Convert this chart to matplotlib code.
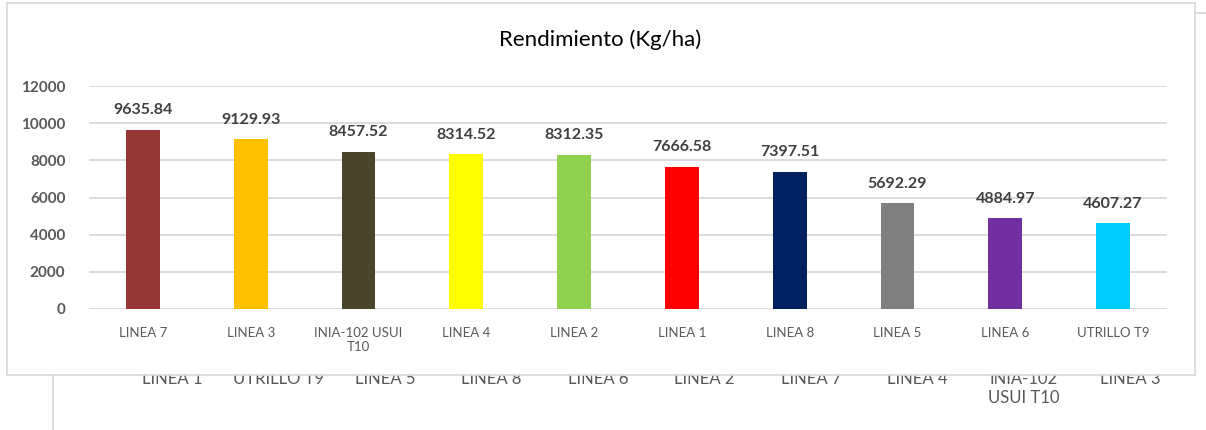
import matplotlib.pyplot as plt
import matplotlib.transforms as mtransforms

plt.rcParams['font.family'] = ['Lato', 'DejaVu Sans']

# front chart data
lineas = ["LINEA 7", "LINEA 3", "INIA-102 USUI\nT10", "LINEA 4", "LINEA 2",
          "LINEA 1", "LINEA 8", "LINEA 5", "LINEA 6", "UTRILLO T9"]
rendimiento = [9635.84, 9129.93, 8457.52, 8314.52, 8312.35,
               7666.58, 7397.51, 5692.29, 4884.97, 4607.27]
colores = ["#953735", "#FFC000", "#4A452A", "#FFFF00", "#92D050",
           "#FF0000", "#002060", "#808080", "#7030A0", "#00CCFF"]
yticks = [0, 2000, 4000, 6000, 8000, 10000, 12000]

# chart peeking out from behind
bg_labels = ["LINEA 1", "UTRILLO T9", "LINEA 5", "LINEA 8", "LINEA 6",
             "LINEA 2", "LINEA 7", "LINEA 4", "INIA-102\nUSUI T10", "LINEA 3"]

W, H = 1206, 430
fig = plt.figure(figsize=(W / 100, H / 100), dpi=100)
fig.patch.set_facecolor("white")
grey = "#D9D9D9"
txt = "#595959"


def box(x0, y0, x1, y1):
    # pixel box (top-left origin) -> figure fraction
    return [x0 / W, 1 - y1 / H, (x1 - x0) / W, (y1 - y0) / H]


# background chart (only its border and category labels show)
bg = fig.add_axes(box(53, 13, 1260, 480), zorder=0)
step = 106.5
bg.set_xlim(-(172 - 53) / step, (1260 - 172) / step)
bg.set_ylim(0, 1)
bg.set_xticks([])
bg.set_yticks([])
for s in ["right", "bottom"]:
    bg.spines[s].set_visible(False)
for s in ["left", "top"]:
    bg.spines[s].set_color(grey)
    bg.spines[s].set_linewidth(1.2)
trans = mtransforms.blended_transform_factory(bg.transData, fig.transFigure)
for i, lab in enumerate(bg_labels):
    bg.text(i, 1 - 371 / H, lab, transform=trans, ha="center", va="top",
            fontsize=12, color=txt, linespacing=1.25)

# front chart frame
frame = fig.add_axes(box(7, 3, 1195, 375), zorder=1)
frame.set_facecolor("white")
frame.set_xticks([])
frame.set_yticks([])
for s in frame.spines.values():
    s.set_color(grey)
    s.set_linewidth(1.2)

# plot area
ax = fig.add_axes(box(89, 86, 1167, 309), zorder=2)
ax.patch.set_alpha(0)
x = range(len(lineas))
bars = ax.bar(x, rendimiento, width=0.315, color=colores, zorder=3)
ax.set_xlim(-0.5, len(lineas) - 0.5)
ax.set_ylim(0, 12000)
ax.set_yticks(yticks)
ax.set_yticklabels([str(v) for v in yticks], fontsize=11, fontweight="bold", color=txt)
ax.set_xticks(list(x))
ax.set_xticklabels(lineas, fontsize=9.5, color=txt)
ax.tick_params(axis="both", length=0)
ax.tick_params(axis="x", pad=13)
ax.tick_params(axis="y", pad=17)
ax.grid(axis="y", color=grey, linewidth=1.3, zorder=0)
for s in ax.spines.values():
    s.set_visible(False)
for b, v in zip(bars, rendimiento):
    ax.annotate(f"{v:.2f}", (b.get_x() + b.get_width() / 2, v), xytext=(0, 9),
                textcoords="offset points", ha="center", va="bottom",
                fontsize=11.5, fontweight="bold", color="#404040")

fig.text(600 / W, 1 - 40 / H, "Rendimiento (Kg/ha)", ha="center", va="center",
         fontsize=16, color="black", zorder=3)

# small line at top right belonging to the background chart
fig.add_artist(plt.Line2D([1195 / W, 1], [1 - 13 / H, 1 - 13 / H], color=grey, lw=1.2))

fig.savefig("out.png", dpi=100)
